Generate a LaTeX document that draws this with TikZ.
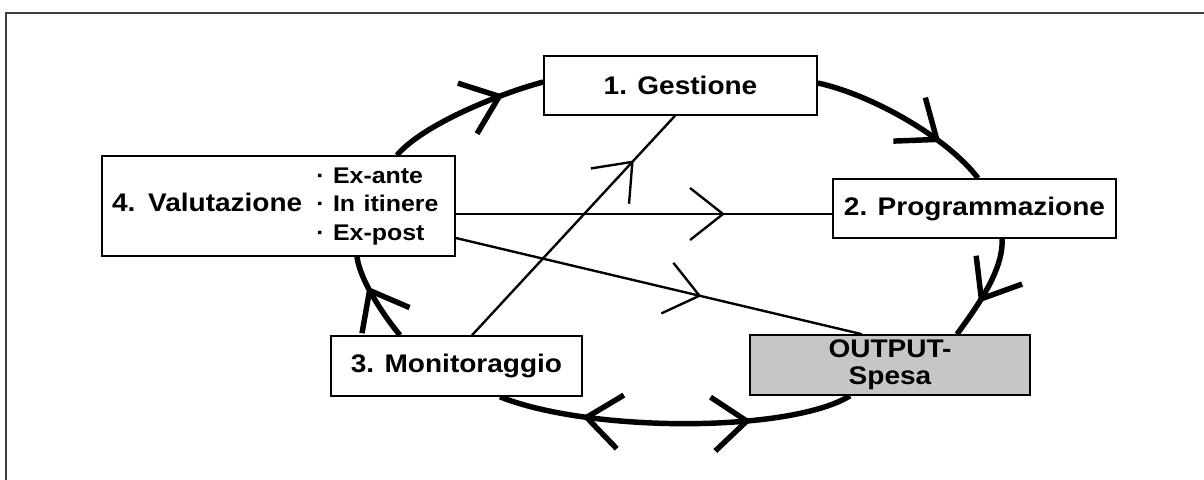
\documentclass[tikz,border=0pt]{standalone}
\usepackage{fontspec}
\setmainfont{Liberation Sans}[FakeStretch=1.1]
\usetikzlibrary{calc,decorations.markings,backgrounds}
\newlength\pxu \setlength\pxu{0.02cm}
\definecolor{framecol}{RGB}{60,60,60}
\definecolor{outgray}{RGB}{198,198,198}
\tikzset{
  box/.style={draw=black, line width=0.9pt, fill=white, inner sep=0pt,
    font=\bfseries\fontsize{14.5}{15.5}\selectfont, align=center},
  cyc/.style={line width=3.1pt},
  conn/.style={line width=1.35pt},
  cbarb/.style={postaction={decorate,decoration={markings,mark=at position #1 with {\draw[line width=3.1pt] (-0.68cm,0.54cm) -- (0,0) -- (-0.68cm,-0.54cm);}}}},
  crbarb/.style={postaction={decorate,decoration={markings,mark=at position #1 with {\draw[line width=3.1pt] (0.68cm,0.54cm) -- (0,0) -- (0.68cm,-0.54cm);}}}},
  tbarb/.style={postaction={decorate,decoration={markings,mark=at position #1 with {\draw[line width=1.35pt] (-0.66cm,0.52cm) -- (0,0) -- (-0.66cm,-0.52cm);}}}}
}
\begin{document}
\begin{tikzpicture}[x=0.02cm, y=-0.02cm]
\useasboundingbox (0,0) rectangle (1204,480);
\clip (0,0) rectangle (1204,480);
\draw[framecol, line width=1.4pt] (1220,13) -- (6,13) -- (6,500);

\node[box, minimum width=273\pxu, minimum height=59\pxu] (ges) at (680.5,85.5) {1. Gestione};
\node[box, minimum width=283\pxu, minimum height=59\pxu] (prog) at (974.5,208.5) {2. Programmazione};
\node[box, minimum width=251\pxu, minimum height=60\pxu] (mon) at (456.5,366) {3. Monitoraggio};
\node[box, fill=outgray, minimum width=280\pxu, minimum height=60\pxu] (out) at (890,365) {OUTPUT-\\Spesa};
\node[box, align=left, text width=333\pxu, inner xsep=10\pxu, minimum height=100\pxu] (val) at (278.5,206)
  {4. Valutazione\hspace{14\pxu}{\fontsize{12.9}{16.2}\selectfont\begin{tabular}[c]{@{}l@{}}· Ex-ante\\ · In itinere\\ · Ex-post\end{tabular}}};

\begin{pgfonlayer}{background}
\fill[white] (0,0) rectangle (1204,480);
% cycle arcs
\draw[cyc, cbarb=0.72] ($(val.north)+(118.5,0)$) .. controls +(25,-30) and +(-45,12) .. ($(ges.west)+(0,-3.5)$);
\draw[cyc, cbarb=0.7] ($(ges.east)+(0,-2.5)$) .. controls +(55,12) and +(-30,-40) .. ($(prog.north)+(3.5,0)$);
\draw[cyc, cbarb=0.6] ($(prog.south)+(27.5,0)$) .. controls +(2,32) and +(18,-25) .. ($(out.north)+(67,0)$);
\draw[cyc, crbarb=0.3, cbarb=0.75] ($(out.south)+(-40,0)$) .. controls +(-60,37) and +(90,36) .. ($(mon.south)+(43.5,0)$);
\draw[cyc, cbarb=0.6] ($(mon.north)+(-56.5,0)$) .. controls +(-15,-18) and +(3,24) .. ($(val.south)+(78.5,0)$);
% thin connectors
\coordinate (v1) at ($(val.east)+(0,8)$);
\draw[conn, tbarb=0.71] (v1) -- (v1 -| prog.west);
\draw[conn, tbarb=0.6] ($(val.east)+(0,32)$) -- ($(out.north)+(-28,0)$);
\draw[conn, tbarb=0.79] ($(mon.north)+(15.5,0)$) -- ($(ges.south)+(-5.5,0)$);
\end{pgfonlayer}
\end{tikzpicture}
\end{document}
